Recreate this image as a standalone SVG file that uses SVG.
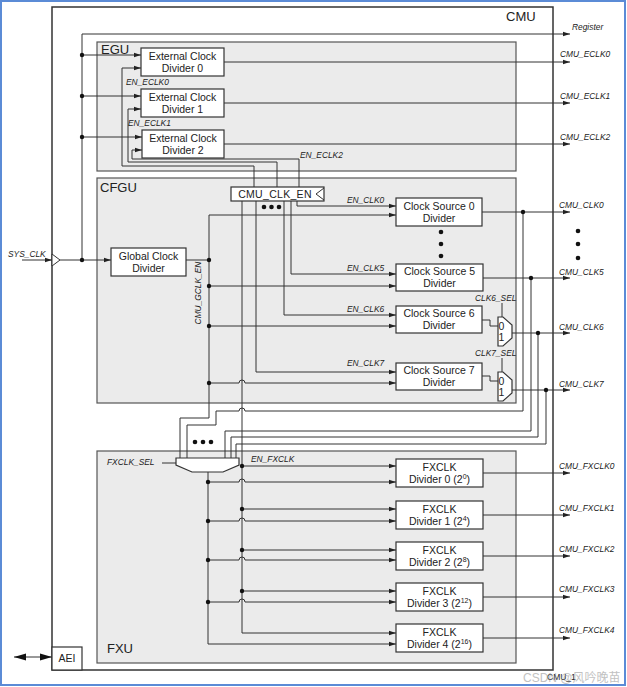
<svg xmlns="http://www.w3.org/2000/svg" width="627" height="687" viewBox="0 0 627 687">
<style>
.box{fill:#fff;stroke:#333;stroke-width:1.2}
.grp{fill:#ebebeb;stroke:#555;stroke-width:1.2}
.w{fill:none;stroke:#333;stroke-width:1}
.t{font-family:"Liberation Sans",Arial,sans-serif;font-size:10.5px;fill:#222;text-anchor:middle}
.g{font-family:"Liberation Sans",Arial,sans-serif;font-size:13px;fill:#222}
.l{font-family:"Liberation Sans",Arial,sans-serif;font-size:8.4px;font-style:italic;fill:#222}
.d{fill:#111}
</style>
<defs>
<marker id="a" markerWidth="7" markerHeight="6" refX="7" refY="3" orient="auto" markerUnits="userSpaceOnUse"><path d="M0,0.8 L7,3 L0,5.2z" fill="#222"/></marker>
<marker id="b" markerWidth="12" markerHeight="8" refX="12" refY="4" orient="auto-start-reverse" markerUnits="userSpaceOnUse"><path d="M0,0.5 L12,4 L0,7.5z" fill="#111"/></marker>
</defs>
<rect x="0" y="0" width="627" height="687" fill="#fff"/>
<rect x="1" y="1" width="624" height="684" fill="none" stroke="#5b8bd6" stroke-width="2"/>

<g id="cmu">
<rect x="52" y="7" width="501" height="663" fill="none" stroke="#333" stroke-width="1.5"/>
<text class="g" x="506" y="21" font-size="14">CMU</text>
</g>
<g id="egu"><rect class="grp" x="97" y="42" width="419" height="129"/><text class="g" x="101" y="53.5">EGU</text></g>
<g id="cfgu"><rect class="grp" x="97" y="178" width="419" height="225"/><text class="g" x="100" y="192">CFGU</text></g>
<g id="fxu"><rect class="grp" x="97" y="451" width="419" height="212"/><text class="g" x="107" y="653">FXU</text></g>

<g id="connectors">
<path class="w" d="M82,260 V34 H570" marker-end="url(#a)"/>
<path class="w" d="M22,260 H52" marker-end="url(#a)"/>
<path class="w" d="M60,260 H111" marker-end="url(#a)"/>
<path class="w" d="M82,55 H141" marker-end="url(#a)"/>
<path class="w" d="M82,96 H141" marker-end="url(#a)"/>
<path class="w" d="M82,137 H142" marker-end="url(#a)"/>
<path class="w" d="M254,187 V166 H122 V68 H141" marker-end="url(#a)"/>
<path class="w" d="M277,187 V162 H128 V109 H141" marker-end="url(#a)"/>
<path class="w" d="M299,187 V159 H132 V150 H142" marker-end="url(#a)"/>
<path class="w" d="M224,62 H570" marker-end="url(#a)"/>
<path class="w" d="M224,103 H570" marker-end="url(#a)"/>
<path class="w" d="M224,144 H570" marker-end="url(#a)"/>
<path class="w" d="M297,201 V206 H396" marker-end="url(#a)"/>
<path class="w" d="M291,201 V274 H396" marker-end="url(#a)"/>
<path class="w" d="M284,201 V315 H396" marker-end="url(#a)"/>
<path class="w" d="M256,201 V372 H396" marker-end="url(#a)"/>
<path class="w" d="M242,201 V633 H396" marker-end="url(#a)"/>
<path class="w" d="M186,260 H209"/>
<path class="w" d="M209,418 V215 H396" marker-end="url(#a)"/>
<path class="w" d="M209,418 H180 V458"/>
<path class="w" d="M209,286 H396" marker-end="url(#a)"/>
<path class="w" d="M209,326 H396" marker-end="url(#a)"/>
<path class="w" d="M209,383 H239 A3,3 0 0 1 245,383 H396" marker-end="url(#a)"/>
<path class="w" d="M482,212 H570" marker-end="url(#a)"/>
<path class="w" d="M483,278 H570" marker-end="url(#a)"/>
<path class="w" d="M482,320 H490 V326 H498"/>
<path class="w" d="M482,376 H490 V381 H498"/>
<path class="w" d="M512,333 H570" marker-end="url(#a)"/>
<path class="w" d="M512,390 H570" marker-end="url(#a)"/>
<path class="w" d="M502,303 V317"/>
<path class="w" d="M502,358 V372"/>
<path class="w" d="M187,458 V425 H216 V411 H239 A3,3 0 0 1 245,411 H523 V212"/>
<path class="w" d="M225,458 V431 H531 V278"/>
<path class="w" d="M231,458 V437 H538 V333"/>
<path class="w" d="M236,458 V444 H546 V390"/>
<path class="w" d="M162,463 H176"/>
<path class="w" d="M208,472 V644 H396" marker-end="url(#a)"/>
<path class="w" d="M208,482 H239 A3,3 0 0 1 245,482 H396" marker-end="url(#a)"/>
<path class="w" d="M208,521 H239 A3,3 0 0 1 245,521 H396" marker-end="url(#a)"/>
<path class="w" d="M208,560 H239 A3,3 0 0 1 245,560 H396" marker-end="url(#a)"/>
<path class="w" d="M208,602 H239 A3,3 0 0 1 245,602 H396" marker-end="url(#a)"/>
<path class="w" d="M242,466 H396" marker-end="url(#a)"/>
<path class="w" d="M242,509 H396" marker-end="url(#a)"/>
<path class="w" d="M242,550 H396" marker-end="url(#a)"/>
<path class="w" d="M242,591 H396" marker-end="url(#a)"/>
<path class="w" d="M483,473 H570" marker-end="url(#a)"/>
<path class="w" d="M483,515 H570" marker-end="url(#a)"/>
<path class="w" d="M483,556 H570" marker-end="url(#a)"/>
<path class="w" d="M483,597 H570" marker-end="url(#a)"/>
<path class="w" d="M483,638 H570" marker-end="url(#a)"/>
<path class="w" d="M14,657 H52" stroke-width="1.5" marker-start="url(#b)" marker-end="url(#b)"/>
<g class="d">
<circle cx="82" cy="55" r="2.2"/><circle cx="82" cy="96" r="2.2"/><circle cx="82" cy="137" r="2.2"/><circle cx="82" cy="260" r="2.2"/>
<circle cx="209" cy="260" r="2.2"/><circle cx="209" cy="286" r="2.2"/><circle cx="209" cy="326" r="2.2"/><circle cx="209" cy="383" r="2.2"/>
<circle cx="523" cy="212" r="2.2"/><circle cx="531" cy="278" r="2.2"/><circle cx="538" cy="333" r="2.2"/><circle cx="546" cy="390" r="2.2"/>
<circle cx="208" cy="482" r="2.2"/><circle cx="208" cy="521" r="2.2"/><circle cx="208" cy="560" r="2.2"/><circle cx="208" cy="602" r="2.2"/>
<circle cx="242" cy="466" r="2.2"/><circle cx="242" cy="509" r="2.2"/><circle cx="242" cy="550" r="2.2"/><circle cx="242" cy="591" r="2.2"/>
</g>
</g>

<g id="sysclk-in"><polygon points="52,254 60,260 52,266" fill="#fff" stroke="#333" stroke-width="1"/><text class="l" x="8" y="257">SYS_CLK</text></g>
<g id="register-out"><text class="l" x="572" y="30" font-size="8">Register</text></g>

<g id="ecd0"><rect class="box" x="141" y="48" width="83" height="28"/><text class="t" x="182.5" y="59.5">External Clock</text><text class="t" x="182.5" y="71.5">Divider 0</text></g>
<g id="ecd1"><rect class="box" x="141" y="89" width="83" height="28"/><text class="t" x="182.5" y="100.5">External Clock</text><text class="t" x="182.5" y="112.5">Divider 1</text></g>
<g id="ecd2"><rect class="box" x="142" y="130" width="82" height="28"/><text class="t" x="183" y="141.5">External Clock</text><text class="t" x="183" y="153.5">Divider 2</text></g>

<g id="cmu-clk-en"><rect class="box" x="231" y="187" width="93" height="14"/><path class="w" d="M324,188 L316,194 L324,200"/><text class="t" x="275" y="198" letter-spacing="0.3">CMU_CLK_EN</text>
<g class="d"><circle cx="264" cy="207" r="2.3"/><circle cx="271.5" cy="207" r="2.3"/><circle cx="279" cy="207" r="2.3"/></g></g>

<g id="gcd"><rect class="box" x="111" y="248" width="75" height="28"/><text class="t" x="148.5" y="259.5">Global Clock</text><text class="t" x="148.5" y="271.5">Divider</text>
<text class="l" font-size="7.8" transform="translate(201,293) rotate(-90)" text-anchor="middle">CMU_GCLK_EN</text></g>

<g id="cs0"><rect class="box" x="396" y="198" width="86" height="28"/><text class="t" x="439" y="209.5">Clock Source 0</text><text class="t" x="439" y="221.5">Divider</text></g>
<g id="cs-dots" class="d"><circle cx="441" cy="232" r="2.3"/><circle cx="441" cy="244" r="2.3"/><circle cx="441" cy="256" r="2.3"/></g>
<g id="cs5"><rect class="box" x="396" y="264" width="87" height="27"/><text class="t" x="439.5" y="275">Clock Source 5</text><text class="t" x="439.5" y="287">Divider</text></g>
<g id="cs6"><rect class="box" x="396" y="306" width="86" height="27"/><text class="t" x="439" y="317">Clock Source 6</text><text class="t" x="439" y="329">Divider</text></g>
<g id="cs7"><rect class="box" x="396" y="363" width="86" height="27"/><text class="t" x="439" y="374">Clock Source 7</text><text class="t" x="439" y="386">Divider</text></g>

<g id="mux6"><path class="box" d="M498,317 H503 L512,325 V338 L503,346 H498 Z"/><text class="t" x="501.5" y="330" font-size="7.5">0</text><text class="t" x="501.5" y="341" font-size="7.5">1</text><text class="l" x="475" y="301">CLK6_SEL</text></g>
<g id="mux7"><path class="box" d="M498,372 H503 L512,380 V393 L503,401 H498 Z"/><text class="t" x="501.5" y="385" font-size="7.5">0</text><text class="t" x="501.5" y="396" font-size="7.5">1</text><text class="l" x="475" y="356">CLK7_SEL</text></g>

<g id="fx-mux"><path class="box" d="M176,458 H239 V465 L223,472 H192 L176,465 Z"/>
<g class="d"><circle cx="195" cy="442" r="2.3"/><circle cx="203" cy="442" r="2.3"/><circle cx="211" cy="442" r="2.3"/></g>
<text class="l" x="107" y="465">FXCLK_SEL</text></g>

<g id="fxd0"><rect class="box" x="396" y="459" width="87" height="28"/><text class="t" x="439.5" y="470.5">FXCLK</text><text class="t" x="439.5" y="483">Divider 0 (2<tspan dy="-4" font-size="7">0</tspan><tspan dy="4">)</tspan></text></g>
<g id="fxd1"><rect class="box" x="396" y="501" width="87" height="28"/><text class="t" x="439.5" y="512.5">FXCLK</text><text class="t" x="439.5" y="525">Divider 1 (2<tspan dy="-4" font-size="7">4</tspan><tspan dy="4">)</tspan></text></g>
<g id="fxd2"><rect class="box" x="396" y="542" width="87" height="28"/><text class="t" x="439.5" y="553.5">FXCLK</text><text class="t" x="439.5" y="566">Divider 2 (2<tspan dy="-4" font-size="7">8</tspan><tspan dy="4">)</tspan></text></g>
<g id="fxd3"><rect class="box" x="396" y="583" width="87" height="28"/><text class="t" x="439.5" y="594.5">FXCLK</text><text class="t" x="439.5" y="607">Divider 3 (2<tspan dy="-4" font-size="7">12</tspan><tspan dy="4">)</tspan></text></g>
<g id="fxd4"><rect class="box" x="396" y="624" width="87" height="28"/><text class="t" x="439.5" y="635.5">FXCLK</text><text class="t" x="439.5" y="648">Divider 4 (2<tspan dy="-4" font-size="7">16</tspan><tspan dy="4">)</tspan></text></g>

<g id="aei"><rect class="box" x="52" y="647" width="30" height="23"/><text class="t" x="67" y="662" font-size="10">AEI</text></g>

<g id="labels">
<text class="l" x="126" y="85">EN_ECLK0</text>
<text class="l" x="128" y="126">EN_ECLK1</text>
<text class="l" x="300" y="158">EN_ECLK2</text>
<text class="l" x="347" y="203">EN_CLK0</text>
<text class="l" x="347" y="271">EN_CLK5</text>
<text class="l" x="347" y="312">EN_CLK6</text>
<text class="l" x="347" y="366">EN_CLK7</text>
<text class="l" x="251" y="462">EN_FXCLK</text>
<text class="l" x="560" y="57">CMU_ECLK0</text>
<text class="l" x="560" y="99">CMU_ECLK1</text>
<text class="l" x="560" y="140">CMU_ECLK2</text>
<text class="l" x="559" y="208">CMU_CLK0</text>
<text class="l" x="559" y="275">CMU_CLK5</text>
<text class="l" x="559" y="330">CMU_CLK6</text>
<text class="l" x="559" y="387">CMU_CLK7</text>
<text class="l" x="559" y="469">CMU_FXCLK0</text>
<text class="l" x="559" y="511">CMU_FXCLK1</text>
<text class="l" x="559" y="552">CMU_FXCLK2</text>
<text class="l" x="559" y="592">CMU_FXCLK3</text>
<text class="l" x="559" y="633">CMU_FXCLK4</text>
<g class="d"><circle cx="578" cy="231" r="2.3"/><circle cx="578" cy="244" r="2.3"/><circle cx="578" cy="258" r="2.3"/></g>
<text x="547" y="680" font-family="'Liberation Sans',Arial,sans-serif" font-size="8.5" fill="#222">CMU_1</text>
<text x="523" y="682" font-family="'Liberation Sans','Noto Sans CJK SC',sans-serif" font-size="12" fill="#999" opacity="0.6">CSDN @风吟晚苗</text>
</g>
</svg>
